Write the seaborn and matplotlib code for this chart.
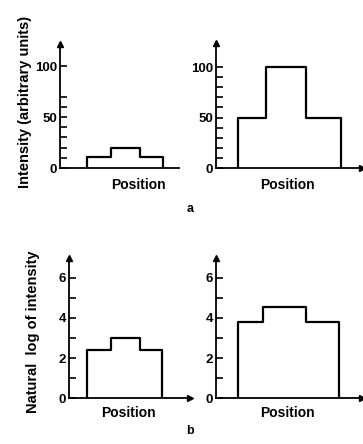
import matplotlib
matplotlib.use("Agg")
import matplotlib.pyplot as plt
import seaborn as sns

# ---- data ----
xlabel = "Position"
ylabel_a = "Intensity (arbitrary units)"
ylabel_b = "Natural  log of intensity"
panel_letters = ["a", "b"]

# panel a: intensities (arbitrary units)
int_left = [11, 20, 11]
int_right = [50, 100, 50]
# panel b: natural log of intensity
ln_left = [2.4, 3.0, 2.4]
ln_right = [3.8, 4.55, 3.8]

# bin boundaries along "Position"
edges_a_left = [27, 51, 80, 103]
edges_a_right = [22, 50, 90, 125]
edges_b_left = [18, 42, 71, 93]
edges_b_right = [22, 47, 90, 123]

a_major = [0, 50, 100]
a_minor_left = [10, 20, 30, 40, 60, 70]
a_minor_right = [10, 20, 30, 40, 60, 70, 80, 90]
b_major = [0, 2, 4, 6]
b_minor = [1, 3, 5]

# ---- style ----
sns.set_style("white")
plt.rcParams["font.family"] = ["Liberation Sans", "DejaVu Sans"]
plt.rcParams["font.weight"] = "bold"
plt.rcParams["text.color"] = "black"
plt.rcParams["ytick.color"] = "black"
plt.rcParams["ytick.labelcolor"] = "black"

W, H = 363, 444
fig = plt.figure(figsize=(W / 100, H / 100), dpi=100)


def make_ax(lpx, rpx, tpx, bpx):
    return fig.add_axes([lpx / W, (H - bpx) / H, (rpx - lpx) / W, (bpx - tpx) / H])


def draw_panel(ax, edges, vals, ylim, major, minor, xmax, right_arrow=True):
    x = [edges[0]] + list(edges)
    y = [0] + list(vals) + [0]
    sns.lineplot(x=x, y=y, estimator=None, sort=False, drawstyle="steps-post",
                 color="black", lw=1.6, ax=ax)
    ax.set_xlim(0, xmax)
    ax.set_ylim(*ylim)
    ax.set_xticks([])
    ax.set_yticks(major)
    ax.set_yticklabels([str(v) for v in major], fontsize=9.5, fontweight="bold")
    ax.set_yticks(minor, minor=True)
    ax.tick_params(axis="y", which="both", left=True, direction="in", length=5,
                   width=1.2, pad=2, colors="black", labelcolor="black")
    for s in ["top", "right"]:
        ax.spines[s].set_visible(False)
    for s in ["left", "bottom"]:
        ax.spines[s].set_color("black")
        ax.spines[s].set_linewidth(1.3)
    ax.set_xlabel("")
    ax.set_ylabel("")
    ax.patch.set_alpha(0)
    ax.plot(0, 1, marker="^", color="black", ms=4, transform=ax.transAxes, clip_on=False)
    if right_arrow:
        ax.plot(1, 0, marker=">", color="black", ms=4, transform=ax.transAxes, clip_on=False)


ax1 = make_ax(60, 179, 44, 168)
draw_panel(ax1, edges_a_left, int_left, (0, 121.6), a_major, a_minor_left, 119, right_arrow=False)

ax2 = make_ax(216, 362, 43, 168)
draw_panel(ax2, edges_a_right, int_right, (0, 123.8), a_major, a_minor_right, 146)

ax3 = make_ax(69, 190, 258, 398)
draw_panel(ax3, edges_b_left, ln_left, (0, 7.0), b_major, b_minor, 121)

ax4 = make_ax(216, 362, 258, 398)
draw_panel(ax4, edges_b_right, ln_right, (0, 7.0), b_major, b_minor, 146)


def ftext(xpx, ypx, s, **kw):
    fig.text(xpx / W, (H - ypx) / H, s, ha="center", va="center", fontweight="bold",
             color="black", **kw)


ftext(138, 185, xlabel, fontsize=10)
ftext(287, 185, xlabel, fontsize=10)
ftext(128, 413, xlabel, fontsize=10)
ftext(287, 413, xlabel, fontsize=10)

ftext(25, 102, ylabel_a, fontsize=10.5, rotation=90)
ftext(33, 332, ylabel_b, fontsize=10.5, rotation=90)

ftext(190, 209, panel_letters[0], fontsize=9)
ftext(190, 431, panel_letters[1], fontsize=9)

fig.savefig("out.png", dpi=100)
